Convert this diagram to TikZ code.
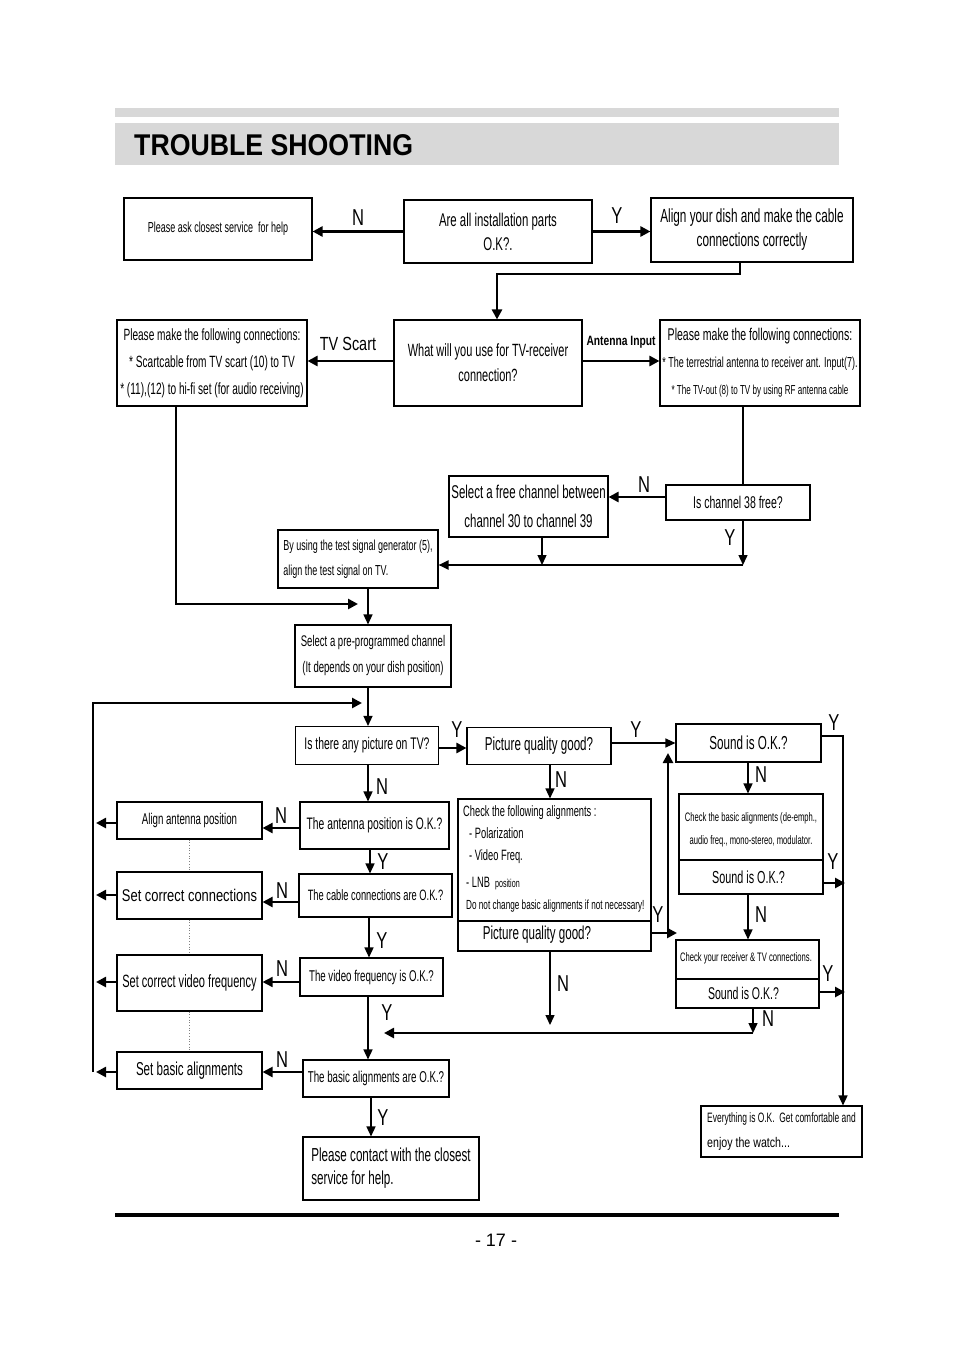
\documentclass[tikz,border=0pt]{standalone}
\usepackage{fontspec}
\setmainfont{Liberation Sans}
\newfontfamily\narrowfont[FakeStretch=0.62]{Liberation Sans}
\newfontfamily\semifont[FakeStretch=0.76]{Liberation Sans}
\newfontfamily\ynfont[FakeStretch=0.72]{Liberation Sans}
\newfontfamily\titlefont[FakeStretch=0.89]{Liberation Sans}
\usetikzlibrary{arrows.meta}

\definecolor{barGray}{RGB}{216,216,216}

\begin{document}
\begin{tikzpicture}[
		x = 1pt, y = -1pt,
		box/.style = {draw, line width=1.1pt, inner sep=0pt, align=center},
		sz/.style 2 args = {minimum width=#1pt, minimum height=#2pt},
		fs/.style 2 args = {font=\narrowfont\fontsize{#1}{#2}\selectfont},
		ss/.style 2 args = {font=\semifont\fontsize{#1}{#2}\selectfont},
		yn/.style = {font=\ynfont\fontsize{23}{23}\selectfont, inner sep=0pt},
		flow/.style = {-{Triangle[length=10pt, width=9pt]}, line width=1.4pt},
		heavy/.style = {-{Triangle[length=10pt, width=10pt]}, line width=2.8pt},
		wire/.style = {line width=1.4pt}
		]
		\useasboundingbox[fill=white] (0,0) rectangle (954,1351);
		
		% heading and footer
		\fill[barGray] (115,108) rectangle (839,117);
		\fill[barGray] (115,123) rectangle (839,165);
		\node[anchor=base west, inner sep=0pt, font=\titlefont\bfseries\fontsize{30}{30}\selectfont] (title) at (134,156) {TROUBLE SHOOTING};
		\draw[line width=4pt] (115,1215) -- (839,1215);
		\node[font=\fontsize{18}{18}\selectfont] (page) at (496,1240) {- 17 -};
		
		% installation / connection part
		\node[box, sz={188}{62}, fs={14.5}{18}] (ask) at (218,229) {Please ask closest service\ \ for help};
		\node[box, sz={188}{63}, fs={18.4}{24}] (parts) at (498,231.5) {Are all installation parts\\O.K?.};
		\node[box, sz={202}{64}, fs={19}{24}] (dish) at (752,230) {Align your dish and make the cable\\connections correctly};
		\node[box, sz={188}{86}, fs={17.7}{25}] (question) at (488,363) {What will you use for TV-receiver\\connection?};
		\node[box, sz={190}{86}, fs={16.3}{27}] (scart) at (212,363) {Please make the following connections:\\* Scartcable from TV scart (10) to TV\\* (11),(12) to hi-fi set (for audio receiving)};
		\node[box, sz={200}{86}, fs={17}{27}] (antenna) at (760,363) {Please make the following connections:\\\fontsize{14.5}{27}\selectfont * The terrestrial antenna to receiver ant. Input(7).\\\fontsize{13}{27}\selectfont * The TV-out (8) to TV by using RF antenna cable};
		\node[box, sz={144}{35}, fs={17}{20}] (ch38) at (738,502.5) {Is channel 38 free?};
		\node[box, sz={159}{61}, fs={18.5}{29}] (freech) at (528.5,506.5) {Select a free channel between\\channel 30 to channel 39};
		\node[box, sz={160}{58}, fs={14.5}{25}, align=left] (testsig) at (358,559) {By using the test signal generator (5),\\align the test signal on TV.};
		\node[box, sz={156}{62}, fs={15.4}{26}] (preprog) at (373,656) {Select a pre-programmed channel\\(It depends on your dish position)};
		
		% checking part
		\node[box, sz={143}{38}, fs={16.8}{20}] (picture) at (367,745.5) {Is there any picture on TV?};
		\node[box, sz={144}{37}, fs={18.7}{22}] (pq) at (539,746) {Picture quality good?};
		\node[box, sz={145}{38}, fs={18.8}{22}] (sound) at (748.5,743) {Sound is O.K.?};
		\node[box, sz={149}{47}, fs={16.6}{20}] (antpos) at (374.5,825.5) {The antenna position is O.K.?};
		\node[box, sz={153}{43}, fs={15}{20}] (cable) at (375.5,895.5) {The cable connections are O.K.?};
		\node[box, sz={143}{38}, fs={15.6}{20}] (videof) at (371.5,977) {The video frequency is O.K.?};
		\node[box, sz={146}{37}, fs={15.7}{20}] (basic) at (376,1078.5) {The basic alignments are O.K.?};
		\node[box, sz={176}{63}, fs={18.8}{23}, align=left] (contact) at (391,1168.5) {Please contact with the closest\\service for help.};
		
		\node[box, sz={145}{37}, fs={15.6}{20}] (alignant) at (189.5,820.5) {Align antenna position};
		\node[box, sz={145}{47}, ss={17}{20}] (setconn) at (189.5,895.5) {Set correct connections};
		\node[box, sz={145}{56}, fs={17.8}{20}] (setvideo) at (189.5,983) {Set correct video frequency};
		\node[box, sz={145}{37}, fs={18.7}{20}] (setbasic) at (189.5,1070.5) {Set basic alignments};
		
		\node[box, sz={193}{152}] (checkalign) at (554.5,875) {};
		\node[box, sz={144}{100}] (basicsound) at (751,844) {};
		\node[box, sz={143}{68}] (checkrecv) at (747.5,974) {};
		\node[box, sz={161}{51}, fs={13.6}{25}, align=left] (everything) at (781.5,1131.5) {Everything is O.K.\ \ Get comfortable and\\\semifont\fontsize{14}{25}\selectfont enjoy the watch...};
		
		\draw[line width=1.1pt] (checkalign.west |- 0,921) -- (checkalign.east |- 0,921);
		\draw[line width=1.1pt] (basicsound.west |- 0,860) -- (basicsound.east |- 0,860);
		\draw[line width=1.1pt] (checkrecv.west |- 0,979) -- (checkrecv.east |- 0,979);
		
		% texts of the split boxes
		\begin{scope}[nodes = {anchor=base west, inner sep=0pt}]
			\node[fs={15}{18}] (chk1) at (463,816) {Check the following alignments :};
			\node[fs={15}{18}] (chk2) at (469,838) {- Polarization};
			\node[fs={15}{18}] (chk3) at (469,860) {- Video Freq.};
			\node[fs={15}{18}] (chk4) at (466,887) {- LNB\ \ {\fontsize{11.5}{14}\selectfont position}};
			\node[fs={13.2}{16}] (chk5) at (466,909) {Do not change basic alignments if not necessary!};
		\end{scope}
		\node[fs={18.7}{22}] (chk6) at (537,935) {Picture quality good?};
		\node[fs={12.3}{23}, align=center] (bs1) at (751,829.5) {Check the basic alignments (de-emph.,\\audio freq., mono-stereo, modulator.};
		\node[fs={17.4}{20}] (bs2) at (748.5,877) {Sound is O.K.?};
		\node[fs={12.3}{14}] (cr1) at (746,958) {Check your receiver \& TV connections.};
		\node[fs={17}{20}] (cr2) at (743.5,993.5) {Sound is O.K.?};
		
		% bends and joins
		\coordinate (ymerge) at (743,565);
		\coordinate (fmerge) at (542,565);
		\coordinate (scartEnd) at (358,604);
		\coordinate (loopBot) at (93,1072);
		\coordinate (loopTop) at (93,703);
		\coordinate (loopEnd) at (362,703);
		\coordinate (qCorner) at (668,933);
		\coordinate (qRight) at (677,933);
		\coordinate (qUp) at (668,753);
		\coordinate (mergeR) at (753,1033);
		\coordinate (mergeL) at (384,1033);
		
		% connectors
		\draw[heavy] (parts.west) -- (ask.east |- parts.west);
		\draw[heavy] (parts.east) -- (dish.west |- parts.east);
		\draw[heavy] (dish.south -| 740,0) |- (497,274) -- (question.north -| 497,0);
		\draw[heavy] (question.west |- 0,361) -- (scart.east |- 0,361);
		\draw[heavy] (question.east |- 0,361) -- (antenna.west |- 0,361);
		\draw[wire] (antenna.south -| 743,0) -- (ch38.north -| 743,0);
		\draw[heavy] (ch38.west |- 0,497) -- (freech.east |- 0,497);
		\draw[flow] (ch38.south -| 743,0) -- (ymerge);
		\draw[flow, line width=2pt] (ymerge) -- (testsig.east |- ymerge);
		\draw[flow] (freech.south -| fmerge) -- (fmerge);
		\draw[heavy] (scart.south -| 176,0) |- (scartEnd);
		\draw[flow] (testsig.south -| 368,0) -- (preprog.north -| 368,0);
		\draw[flow] (preprog.south -| 368,0) -- (picture.north -| 368,0);
		\draw[heavy] (loopBot) -- (loopTop) -- (loopEnd);
		
		\draw[heavy] (picture.east |- 0,748) -- (pq.west |- 0,748);
		\draw[flow, line width=1.2pt] (pq.east |- 0,743) -- (sound.west |- 0,743);
		\draw[flow] (sound.east |- 0,736) -| (everything.north -| 843,0);
		\draw[heavy] (basicsound.east |- 0,883) -- (845,883);
		\draw[heavy] (checkrecv.east |- 0,992) -- (845,992);
		\draw[flow] (pq.south -| 550,0) -- (checkalign.north -| 550,0);
		\draw[heavy] (checkalign.east |- qCorner) -- (qRight);
		\draw[heavy] (qCorner) -- (qUp);
		\draw[flow] (checkalign.south -| 550,0) -- (550,1025);
		\draw[flow] (sound.south -| 748,0) -- (basicsound.north -| 748,0);
		\draw[flow] (basicsound.south -| 748,0) -- (checkrecv.north -| 748,0);
		\draw[flow] (checkrecv.south -| mergeR) -- (mergeR);
		\draw[heavy] (mergeR) -- (mergeL);
		
		\draw[flow] (picture.south -| 368,0) -- (antpos.north -| 368,0);
		\draw[flow] (antpos.south -| 370,0) -- (cable.north -| 370,0);
		\draw[flow] (cable.south -| 369,0) -- (videof.north -| 369,0);
		\draw[flow] (videof.south -| 368,0) -- (basic.north -| 368,0);
		\draw[flow] (basic.south -| 371,0) -- (contact.north -| 371,0);
		
		\draw[heavy, line width=2.2pt] (antpos.west |- 0,828) -- (alignant.east |- 0,828);
		\draw[heavy, line width=2.2pt] (cable.west |- 0,902) -- (setconn.east |- 0,902);
		\draw[heavy, line width=1.6pt] (videof.west |- 0,982) -- (setvideo.east |- 0,982);
		\draw[heavy, line width=2.2pt] (basic.west |- 0,1072) -- (setbasic.east |- 0,1072);
		\draw[heavy] (alignant.west |- 0,823) -- (96,823);
		\draw[heavy] (setconn.west |- 0,895) -- (96,895);
		\draw[heavy] (setvideo.west |- 0,982) -- (96,982);
		\draw[heavy] (setbasic.west |- 0,1072) -- (96,1072);
		
		\begin{scope}[dotted, gray, line width=0.7pt]
			\draw (alignant.south) -- (setconn.north);
			\draw (setconn.south) -- (setvideo.north);
			\draw (setvideo.south) -- (setbasic.north);
		\end{scope}
		
		% Put Y / N on edges
		\begin{scope}[nodes = {yn}]
			\node (nParts) at (358,218) {N};
			\node (yParts) at (617,216) {Y};
			\node[font=\semifont\fontsize{19}{19}\selectfont] (tvScart) at (348,344) {TV Scart};
			\node[font=\semifont\bfseries\fontsize{13.5}{14}\selectfont] (antInput) at (621,342) {Antenna Input};
			\node (nCh) at (644,485) {N};
			\node (yCh) at (730,538) {Y};
			\node (yPic) at (457,730) {Y};
			\node (yPq) at (636,730) {Y};
			\node (ySound) at (834,723) {Y};
			\node (nPic) at (382,787) {N};
			\node (nAnt) at (281,816) {N};
			\node (yAnt) at (383,862) {Y};
			\node (nCable) at (282,891) {N};
			\node (yCable) at (382,941) {Y};
			\node (nVideo) at (282,969) {N};
			\node (yVideo) at (387,1013) {Y};
			\node (nBasic) at (282,1060) {N};
			\node (yBasic) at (383,1118) {Y};
			\node (nPq) at (561,780) {N};
			\node (yCheck) at (658,915) {Y};
			\node (nCheck) at (563,984) {N};
			\node (nSound) at (761,775) {N};
			\node (yBs) at (833,862) {Y};
			\node (nBs) at (761,915) {N};
			\node (yCr) at (828,974) {Y};
			\node (nCr) at (768,1019) {N};
		\end{scope}
	\end{tikzpicture}
\end{document}
